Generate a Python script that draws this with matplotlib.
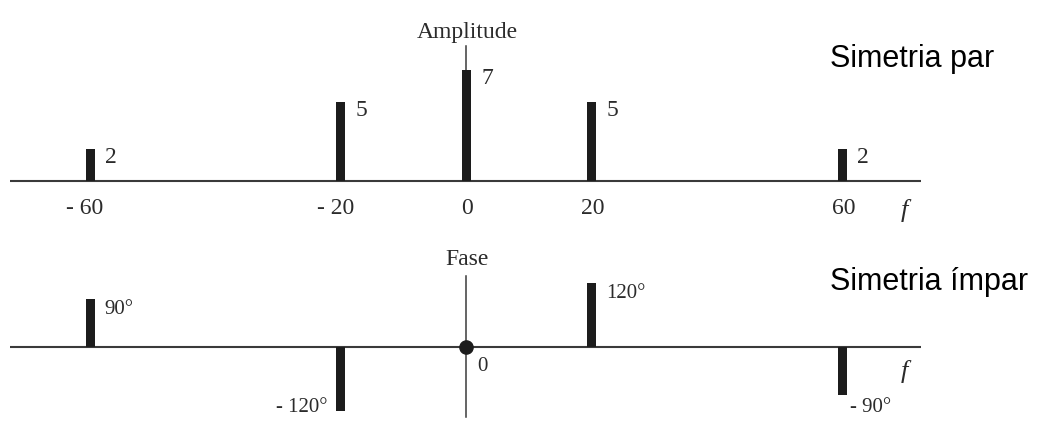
import matplotlib
matplotlib.use("Agg")
import matplotlib.pyplot as plt
from matplotlib.transforms import ScaledTranslation

# ---- data ----
freqs = [-60, -20, 0, 20, 60]
freq_labels = ["- 60", "- 20", "0", "20", "60"]
amplitudes = [2, 5, 7, 5, 2]
phases = [90, -120, 0, 120, -90]
phase_labels = ["90°", "- 120°", "0", "120°", "- 90°"]

W, H, DPI = 1037, 431, 100
fig = plt.figure(figsize=(W / DPI, H / DPI), dpi=DPI)

SERIF = "Liberation Serif"
SANS = "Liberation Sans"
TXT = "#2b2b2b"
LINE = "#3a3a3a"
BAR = "#1c1c1c"

# pixel geometry
x0_px, sx = 466.3, 6.27           # f=0 position and px per unit f
axis_left_px, axis_right_px = 10, 921
xlim = ((0 - x0_px) / sx, (W - x0_px) / sx)
xa, xb = (axis_left_px - x0_px) / sx, (axis_right_px - x0_px) / sx


def off(ax, dx, dy):
    """transform: data coords + pixel offset (dy positive = down)"""
    return ax.transData + ScaledTranslation(dx / DPI, -dy / DPI, fig.dpi_scale_trans)


# ---------------- top: amplitude ----------------
top_split = 230
sy_a = 15.8
base_a = 182
ax1 = fig.add_axes([0, 1 - top_split / H, 1, top_split / H])
ax1.set_xlim(*xlim)
ax1.set_ylim(-(top_split - base_a) / sy_a, base_a / sy_a)
ax1.axis("off")

amp_axis_top = (base_a - 47) / sy_a
ax1.plot([xa, xb], [0, 0], color=LINE, lw=1.5, solid_capstyle="butt")
ax1.plot([0, 0], [0, amp_axis_top], color=LINE, lw=1.1)
ax1.bar(freqs, amplitudes, width=9 / sx, color=BAR, zorder=3)

for f, a in zip(freqs, amplitudes):
    ax1.text(f, a, str(a), transform=off(ax1, 15, 13), ha="left", va="baseline",
             fontsize=17, family=SERIF, color=TXT)

neg_shift = {True: -5, False: 1}
for f, lab in zip(freqs, freq_labels):
    ax1.text(f, 0, lab, transform=off(ax1, neg_shift[f < 0], 32), ha="center",
             va="baseline", fontsize=17, family=SERIF, color=TXT)

ax1.text(0, amp_axis_top, "Amplitude", transform=off(ax1, 1, -9), ha="center",
         va="baseline", fontsize=17, family=SERIF, color=TXT)
ax1.text(xb, 0, "f", transform=off(ax1, -17, 35), ha="center", va="baseline",
         fontsize=19, family=SERIF, style="italic", color=TXT)

# ---------------- bottom: phase ----------------
sy_p = 0.53
base_p = 348
bot_h = H - top_split
ax2 = fig.add_axes([0, 0, 1, bot_h / H])
ax2.set_xlim(*xlim)
ax2.set_ylim(-(H - base_p) / sy_p, (base_p - top_split) / sy_p)
ax2.axis("off")

ph_top = (base_p - 277) / sy_p
ph_bot = -(418 - base_p) / sy_p
ax2.plot([xa, xb], [0, 0], color=LINE, lw=1.5, solid_capstyle="butt")
ax2.plot([0, 0], [ph_bot, ph_top], color=LINE, lw=1.1)
nz = [(f, p) for f, p in zip(freqs, phases) if p != 0]
ax2.bar([f for f, _ in nz], [p for _, p in nz], width=9 / sx, color=BAR, zorder=3)
ax2.plot([f for f, p in zip(freqs, phases) if p == 0],
         [p for p in phases if p == 0], "o", color=BAR, ms=9.5, zorder=4)

for f, p, lab in zip(freqs, phases, phase_labels):
    if p > 0:
        ax2.text(f, p, lab, transform=off(ax2, 14, 14), ha="left", va="baseline",
                 fontsize=15, family=SERIF, color=TXT)
    elif p == 0:
        ax2.text(f, p, lab, transform=off(ax2, 11, 23), ha="left", va="baseline",
                 fontsize=15, family=SERIF, color=TXT)
    elif f < 0:
        ax2.text(f, p, lab, transform=off(ax2, -13, 0), ha="right", va="baseline",
                 fontsize=15, family=SERIF, color=TXT)
    else:
        ax2.text(f, p, lab, transform=off(ax2, 8, 16), ha="left", va="baseline",
                 fontsize=15, family=SERIF, color=TXT)

ax2.text(0, ph_top, "Fase", transform=off(ax2, 1, -12), ha="center",
         va="baseline", fontsize=17, family=SERIF, color=TXT)
ax2.text(xb, 0, "f", transform=off(ax2, -17, 30), ha="center", va="baseline",
         fontsize=19, family=SERIF, style="italic", color=TXT)

# ---------------- side notes ----------------
fig.text(830 / W, 1 - 67 / H, "Simetria par", ha="left", va="baseline",
         fontsize=22, family=SANS, color="black")
fig.text(830 / W, 1 - 290 / H, "Simetria ímpar", ha="left", va="baseline",
         fontsize=22, family=SANS, color="black")

fig.savefig("out.png", dpi=DPI)
